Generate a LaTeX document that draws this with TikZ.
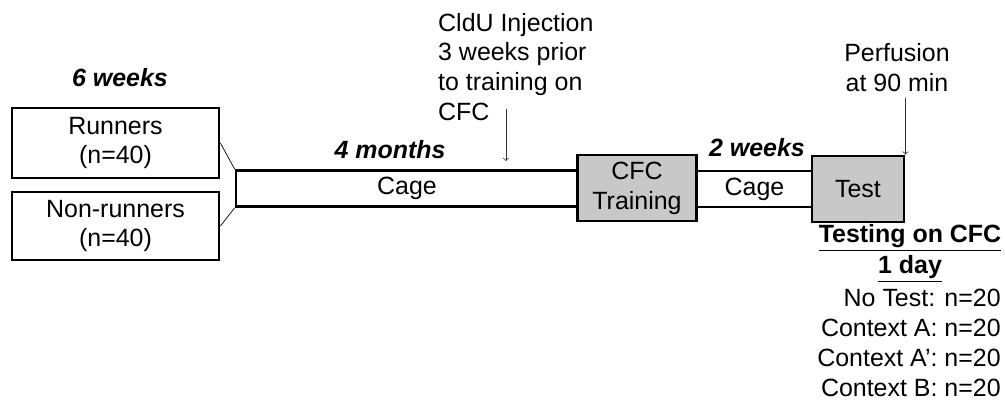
\documentclass[tikz,border=0pt]{standalone}
\usepackage{fontspec}
\setmainfont{Liberation Sans}
\usepackage{tikz}
\definecolor{boxgray}{RGB}{200,200,200}
\newcommand{\figsize}{\fontsize{14.2}{17}\selectfont}
\tikzset{
    stage/.style={draw,line width=1.6pt,align=center,inner sep=0pt},
    period/.style={font=\figsize\bfseries\itshape},
}

\begin{document}
\begin{tikzpicture}[font=\figsize,>=to,x=0.02cm,y=-0.02cm]
    \useasboundingbox (0,0) rectangle (1005,403);

    % Groups.
    \node[period] (six-weeks) at (120,78) {6 weeks};
    \node[stage,minimum width=4.14cm,minimum height=1.40cm] (runners)
        at (115.5,143) {Runners\\(n=40)};
    \node[stage,minimum width=4.14cm,minimum height=1.36cm] (nonrunners)
        at (115.5,226) {Non-runners\\(n=40)};

    % Timeline.
    \node[stage,fill=white,minimum width=6.84cm,minimum height=0.72cm]
        (cage-long) at (407,188.5) {Cage};
    \node[stage,fill=boxgray,minimum width=2.38cm,minimum height=1.32cm]
        (training) at (637,188) {CFC\\Training};
    \node[stage,fill=white,minimum width=2.30cm,minimum height=0.72cm]
        (cage-short) at (754.5,189) {Cage};
    \node[stage,fill=boxgray,minimum width=1.84cm,minimum height=1.32cm]
        (test) at (858,189) {Test};
    \draw[thin] (runners.east) -- (cage-long.north west);
    \draw[thin] (nonrunners.east) -- (cage-long.south west);
    \node[period] (four-months) at (390,150) {4 months};
    \node[period] (two-weeks) at (757,148) {2 weeks};

    % Injection and perfusion.
    \node[align=left,anchor=west] (cldu) at (432,67)
        {CldU Injection\\3 weeks prior\\to training on\\CFC};
    \coordinate (inj-top) at (506,109);
    \coordinate (inj-tip) at (506,161);
    \draw[->,thin,black!80] (inj-top) -- (inj-tip);
    \node[align=center] (perfusion) at (897,68) {Perfusion\\at 90 min};
    \draw[->,thin,black!80] (perfusion.south -| test.north east)
        -- (test.north east);

    % Test groups.
    \node[font=\figsize\bfseries] (testing-head) at (910,238)
        {\underline{Testing on CFC}};
    \node[font=\figsize\bfseries] (one-day) at (910,269) {\underline{1 day}};
    \node[align=right,anchor=east,inner sep=0pt] (test-groups) at (1001,343)
        {No Test: n=20\\Context A: n=20\\Context A’: n=20\\Context B: n=20};
\end{tikzpicture}
\end{document}
